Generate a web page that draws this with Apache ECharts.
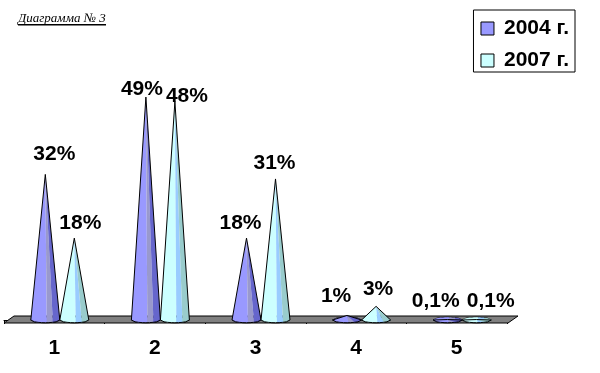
<!DOCTYPE html>
<html><head><meta charset="utf-8">
<style>html,body{margin:0;padding:0;background:#fff}#c{width:600px;height:373px}</style>
<script src="https://cdn.jsdelivr.net/npm/echarts@6/dist/echarts.min.js"></script>
</head><body><div id="c"></div>
<script>
const categories = ['1','2','3','4','5'];
const values2004 = [32,49,18,1,0.1];
const values2007 = [18,48,31,3,0.1];
const seriesNames = ['2004 г.','2007 г.'];
const titleText = 'Диаграмма № 3';
const fontSans = '"Liberation Sans", Arial, sans-serif';

// styling
const palette2004 = ['#9999ff','#9999cc','#6666cc'];
const palette2007 = ['#ccffff','#99ccff','#99cccc'];
const stripEdges = [0,0.55,0.76,1];
const coneHalf = 14.5, coneRy = 2.7;
const coneShift = [-9,20];
const labelShift2004 = [[9,-20],[-4,-8],[-6,-15],[-11,-19],[-12,-18]];
const labelShift2007 = [[6,-15],[12,-5],[-1,-16],[2,-17],[14,-18]];

function conePoints(cx,by,ax,ay,f0,f1){
  const pts=[[ax,ay]];
  for(let i=0;i<=8;i++){
    const f=f0+(f1-f0)*i/8, t=2*f-1;
    pts.push([cx+t*coneHalf, by+coneRy*Math.sqrt(Math.max(0,1-t*t))]);
  }
  return pts;
}
function discPoints(cx,by,f0,f1){
  const lo=[],hi=[];
  for(let i=0;i<=8;i++){
    const f=f0+(f1-f0)*i/8, t=2*f-1, d=coneRy*Math.sqrt(Math.max(0,1-t*t));
    lo.push([cx+t*coneHalf,by+d]); hi.unshift([cx+t*coneHalf,by-d]);
  }
  return lo.concat(hi);
}
function coneRenderer(seriesIndex,palette,shifts){
  return function(params,api){
    const idx=api.value(0), val=api.value(1);
    const c0=api.coord([idx,0]), c1=api.coord([idx,val]);
    const cx=c0[0]+coneShift[seriesIndex], by=c0[1], ay=c1[1];
    const kids=[];
    kids.push({type:'polygon',shape:{points:discPoints(cx,by,0,1)},style:{fill:palette[0],stroke:'#000',lineWidth:1}});
    for(let s=0;s<3;s++){
      kids.push({type:'polygon',shape:{points:discPoints(cx,by,stripEdges[s],stripEdges[s+1])},style:{fill:palette[s]}});
    }
    for(let s=0;s<3;s++){
      kids.push({type:'polygon',shape:{points:conePoints(cx,by,cx,ay,stripEdges[s],stripEdges[s+1])},style:{fill:palette[s]}});
    }
    kids.push({type:'polygon',shape:{points:conePoints(cx,by,cx,ay,0,1)},style:{fill:'none',stroke:'#000',lineWidth:1}});
    const sh=shifts[idx];
    kids.push({type:'text',z2:50,style:{text:String(val).replace('.',',')+'%',x:cx+sh[0],y:ay+sh[1],align:'center',verticalAlign:'middle',
      font:'bold 21px '+fontSans,fill:'#000'}});
    return {type:'group',children:kids};
  };
}
function floorRenderer(params){
  const g=params.coordSys;
  const bottom=g.y+g.height+3, top=bottom-7, l=g.x, r=g.x+g.width;
  return {type:'polygon',shape:{points:[[l,bottom],[l+10,top],[r+11,top],[r+1,bottom]]},
    style:{fill:'#808080',stroke:'#000',lineWidth:1}};
}
const chart=echarts.init(document.getElementById('c'),null,{renderer:'canvas'});
chart.setOption({
  animation:false,
  backgroundColor:'#fff',
  title:{text:titleText,left:18,top:12,padding:0,textStyle:{fontFamily:'"Liberation Serif", serif',fontStyle:'italic',fontWeight:'normal',fontSize:13,color:'#000'}},
  graphic:[{type:'rect',shape:{x:18,y:24,width:88,height:1.5},style:{fill:'#000'}}],
  legend:{
    right:25,top:10,orient:'vertical',icon:'rect',itemWidth:13,itemHeight:13,itemGap:11,padding:[8,6,1,7],
    backgroundColor:'#fff',borderColor:'#000',borderWidth:1,borderRadius:0,
    data:seriesNames,
    textStyle:{fontFamily:fontSans,fontWeight:'bold',fontSize:21,color:'#000',padding:[0,0,0,5]},
    itemStyle:{borderColor:'#000',borderWidth:1}
  },
  grid:{left:4,right:93,top:92.5,height:227.5,containLabel:false},
  xAxis:{type:'category',data:categories,offset:3,
    axisLine:{show:true,lineStyle:{color:'#000',width:1}},
    axisTick:{show:true,length:4,lineStyle:{color:'#000'}},
    axisLabel:{margin:15,fontFamily:fontSans,fontWeight:'bold',fontSize:21,color:'#000'},
    splitLine:{show:false}},
  yAxis:{type:'value',min:0,max:50,show:false,splitLine:{show:false}},
  series:[
    {type:'custom',silent:true,z:1,renderItem:floorRenderer,data:[[0,0]],encode:{x:0,y:1},clip:false,tooltip:{show:false}},
    {type:'custom',name:seriesNames[0],z:2,clip:false,renderItem:coneRenderer(0,palette2004,labelShift2004),
      itemStyle:{color:palette2004[0]},encode:{x:0,y:1},data:values2004.map((v,i)=>[i,v])},
    {type:'custom',name:seriesNames[1],z:3,clip:false,renderItem:coneRenderer(1,palette2007,labelShift2007),
      itemStyle:{color:palette2007[0]},encode:{x:0,y:1},data:values2007.map((v,i)=>[i,v])}
  ]
});
</script></body></html>
